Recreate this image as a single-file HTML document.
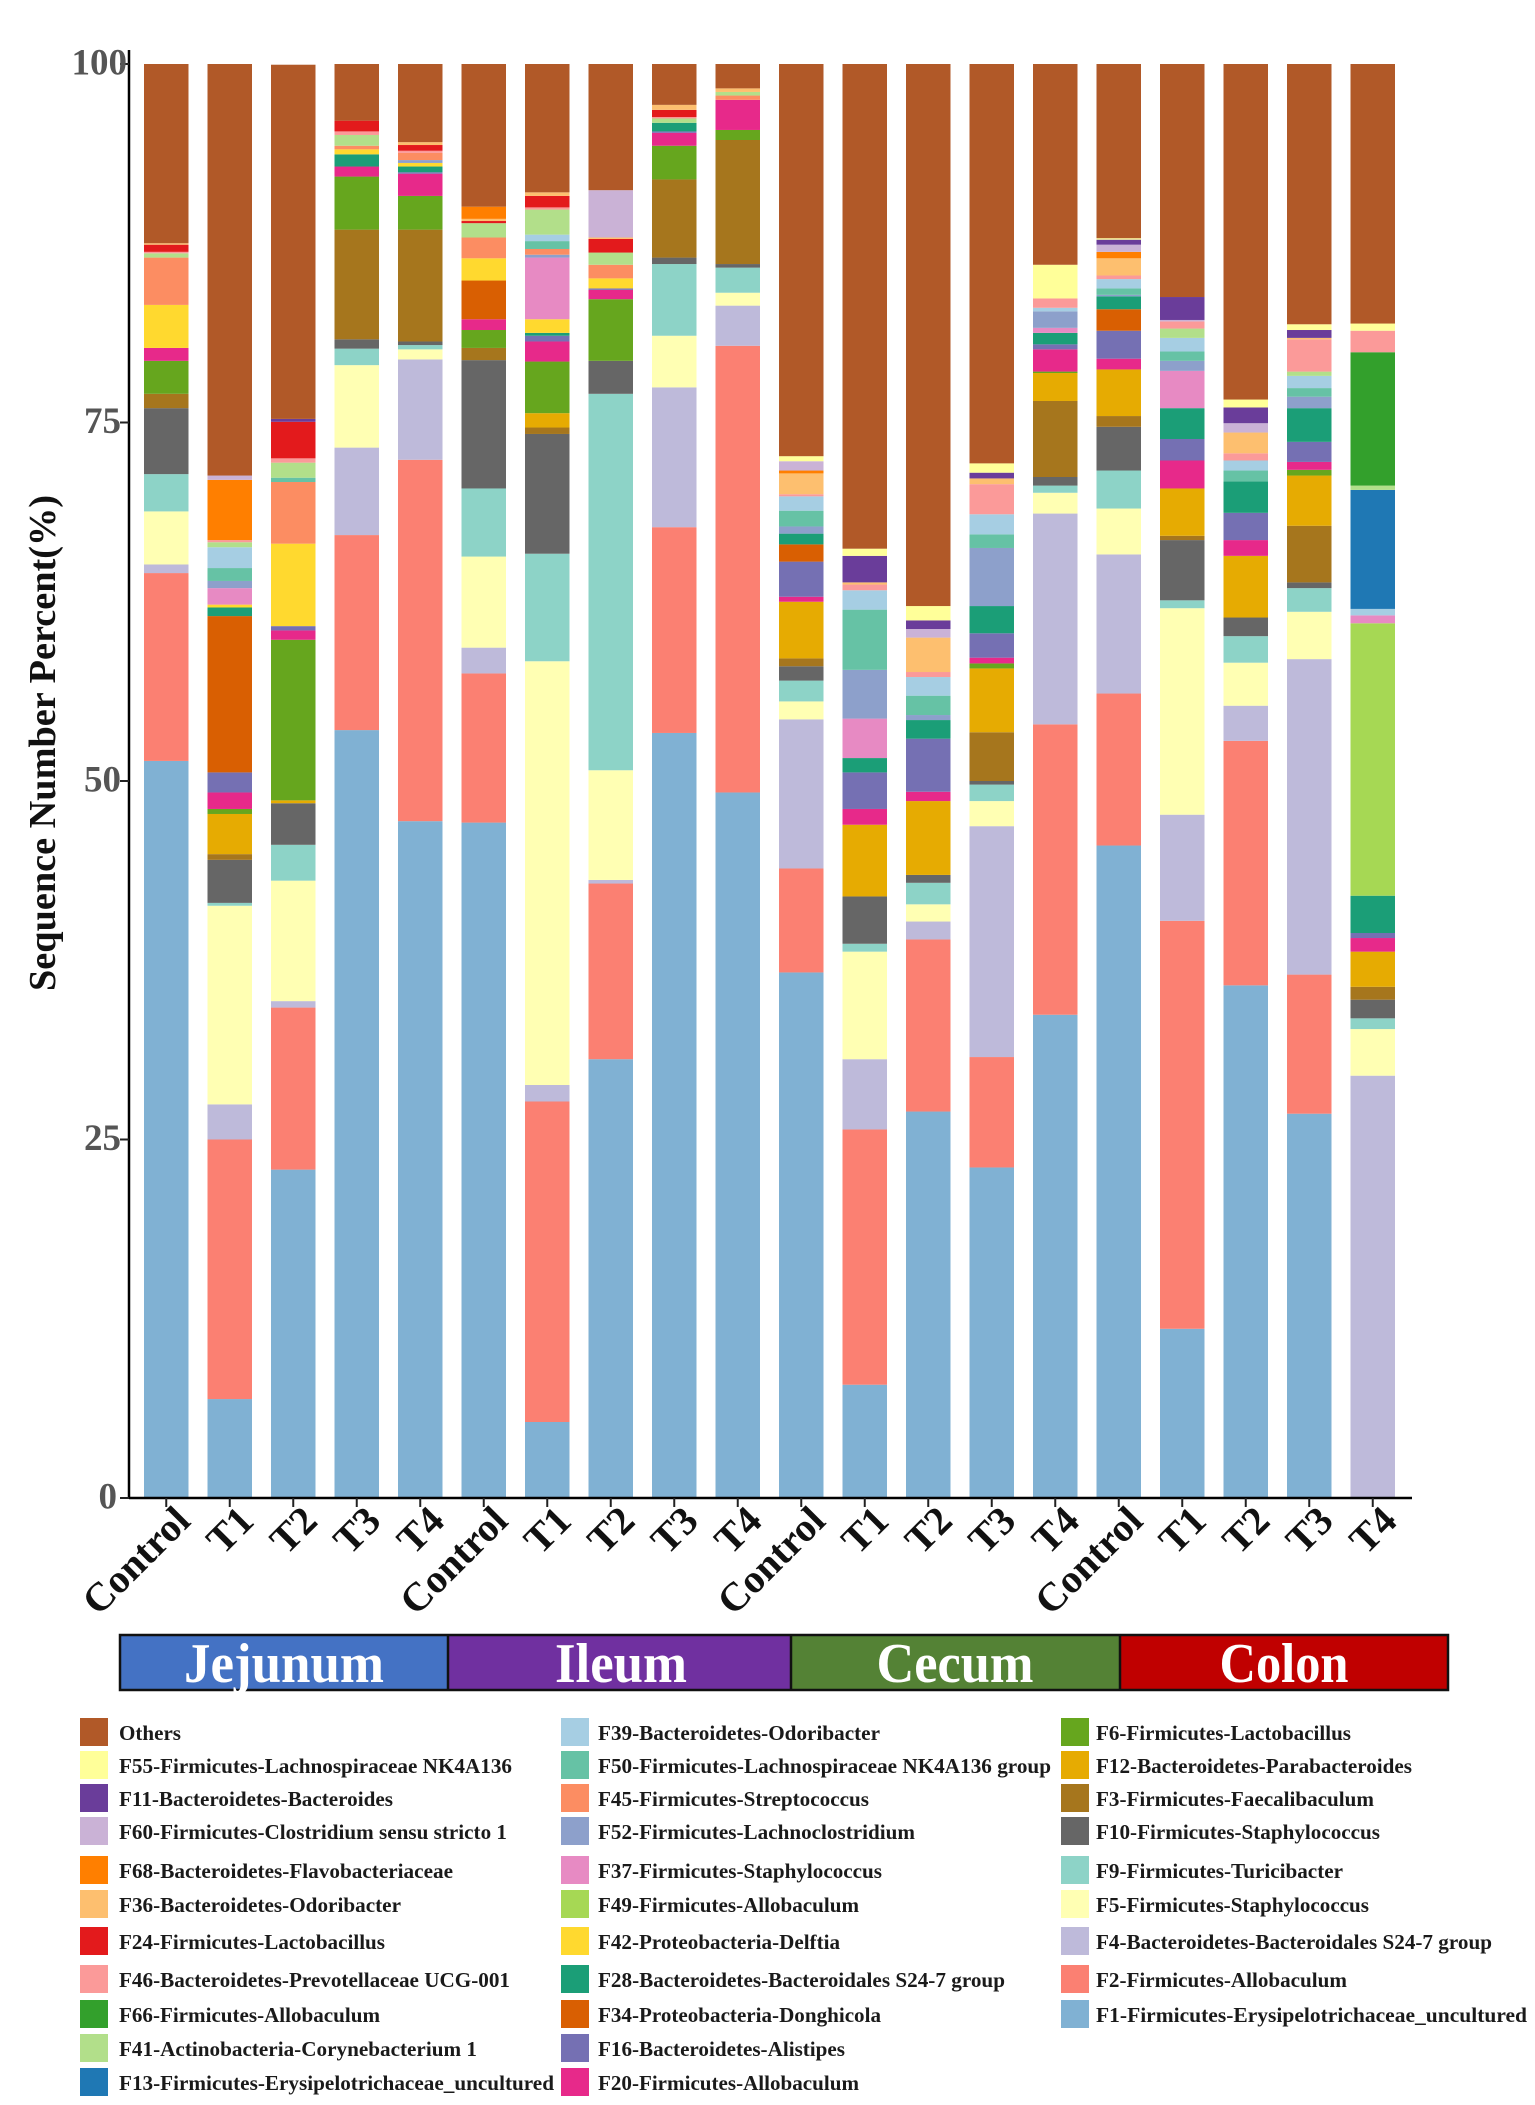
<!DOCTYPE html>
<html lang="en">
<head>
<meta charset="utf-8">
<title>Sequence Number Percent by Intestinal Segment</title>
<style>
  html, body { margin: 0; padding: 0; background: #fff; }
  body { width: 1535px; height: 2105px; overflow: hidden; }
  svg { display: block; font-family: "Liberation Serif", serif; font-weight: bold; }
  .lg { font-size: 21.5px; fill: #1a1a1a; }
  .band { font-size: 56px; fill: #fff; text-anchor: middle; }
</style>
</head>
<body>
<svg id="chart" xmlns="http://www.w3.org/2000/svg" width="1535" height="2105" viewBox="0 0 1535 2105">
  <rect x="0" y="0" width="1535" height="2105" fill="#fff"/>
  <g id="bars"></g>
  <g id="axes"></g>
  <text transform="translate(55,743) rotate(-90)" text-anchor="middle" font-size="38" fill="#111" textLength="496" lengthAdjust="spacingAndGlyphs">Sequence Number Percent(%)</text>

  <g>
    <rect x="120" y="1635" width="328" height="55" fill="#4472c4"/>
    <rect x="448" y="1635" width="343" height="55" fill="#7030a0"/>
    <rect x="791" y="1635" width="329" height="55" fill="#548235"/>
    <rect x="1120" y="1635" width="328" height="55" fill="#c00000"/>
    <path d="M120 1635H1448V1690H120ZM448 1635V1690M791 1635V1690M1120 1635V1690" fill="none" stroke="#111" stroke-width="2.5"/>
    <text class="band" x="284" y="1682" textLength="200" lengthAdjust="spacingAndGlyphs">Jejunum</text>
    <text class="band" x="621" y="1682" textLength="132" lengthAdjust="spacingAndGlyphs">Ileum</text>
    <text class="band" x="955" y="1682" textLength="157" lengthAdjust="spacingAndGlyphs">Cecum</text>
    <text class="band" x="1284" y="1682" textLength="129" lengthAdjust="spacingAndGlyphs">Colon</text>
  </g>

  <g>
    <g><rect x="80" y="1718" width="28" height="28" fill="#b15928"/><text class="lg" x="119" y="1740" textLength="62" lengthAdjust="spacingAndGlyphs">Others</text></g>
    <g><rect x="80" y="1751" width="28" height="28" fill="#ffff99"/><text class="lg" x="119" y="1773" textLength="393" lengthAdjust="spacingAndGlyphs">F55-Firmicutes-Lachnospiraceae NK4A136</text></g>
    <g><rect x="80" y="1784" width="28" height="28" fill="#6a3d9a"/><text class="lg" x="119" y="1806" textLength="274" lengthAdjust="spacingAndGlyphs">F11-Bacteroidetes-Bacteroides</text></g>
    <g><rect x="80" y="1817" width="28" height="28" fill="#cab2d6"/><text class="lg" x="119" y="1839" textLength="388" lengthAdjust="spacingAndGlyphs">F60-Firmicutes-Clostridium sensu stricto 1</text></g>
    <g><rect x="80" y="1856" width="28" height="28" fill="#ff7f00"/><text class="lg" x="119" y="1878" textLength="334" lengthAdjust="spacingAndGlyphs">F68-Bacteroidetes-Flavobacteriaceae</text></g>
    <g><rect x="80" y="1890" width="28" height="28" fill="#fdbf6f"/><text class="lg" x="119" y="1912" textLength="282" lengthAdjust="spacingAndGlyphs">F36-Bacteroidetes-Odoribacter</text></g>
    <g><rect x="80" y="1927" width="28" height="28" fill="#e31a1c"/><text class="lg" x="119" y="1949" textLength="266" lengthAdjust="spacingAndGlyphs">F24-Firmicutes-Lactobacillus</text></g>
    <g><rect x="80" y="1965" width="28" height="28" fill="#fb9a99"/><text class="lg" x="119" y="1987" textLength="391" lengthAdjust="spacingAndGlyphs">F46-Bacteroidetes-Prevotellaceae UCG-001</text></g>
    <g><rect x="80" y="2000" width="28" height="28" fill="#33a02c"/><text class="lg" x="119" y="2022" textLength="261" lengthAdjust="spacingAndGlyphs">F66-Firmicutes-Allobaculum</text></g>
    <g><rect x="80" y="2034" width="28" height="28" fill="#b2df8a"/><text class="lg" x="119" y="2056" textLength="358" lengthAdjust="spacingAndGlyphs">F41-Actinobacteria-Corynebacterium 1</text></g>
    <g><rect x="80" y="2068" width="28" height="28" fill="#1f78b4"/><text class="lg" x="119" y="2090" textLength="435" lengthAdjust="spacingAndGlyphs">F13-Firmicutes-Erysipelotrichaceae_uncultured</text></g>

    <g><rect x="561" y="1718" width="28" height="28" fill="#a6cee3"/><text class="lg" x="598" y="1740" textLength="282" lengthAdjust="spacingAndGlyphs">F39-Bacteroidetes-Odoribacter</text></g>
    <g><rect x="561" y="1751" width="28" height="28" fill="#66c2a5"/><text class="lg" x="598" y="1773" textLength="453" lengthAdjust="spacingAndGlyphs">F50-Firmicutes-Lachnospiraceae NK4A136 group</text></g>
    <g><rect x="561" y="1784" width="28" height="28" fill="#fc8d62"/><text class="lg" x="598" y="1806" textLength="271" lengthAdjust="spacingAndGlyphs">F45-Firmicutes-Streptococcus</text></g>
    <g><rect x="561" y="1817" width="28" height="28" fill="#8da0cb"/><text class="lg" x="598" y="1839" textLength="317" lengthAdjust="spacingAndGlyphs">F52-Firmicutes-Lachnoclostridium</text></g>
    <g><rect x="561" y="1856" width="28" height="28" fill="#e78ac3"/><text class="lg" x="598" y="1878" textLength="284" lengthAdjust="spacingAndGlyphs">F37-Firmicutes-Staphylococcus</text></g>
    <g><rect x="561" y="1890" width="28" height="28" fill="#a6d854"/><text class="lg" x="598" y="1912" textLength="261" lengthAdjust="spacingAndGlyphs">F49-Firmicutes-Allobaculum</text></g>
    <g><rect x="561" y="1927" width="28" height="28" fill="#ffd92f"/><text class="lg" x="598" y="1949" textLength="242" lengthAdjust="spacingAndGlyphs">F42-Proteobacteria-Delftia</text></g>
    <g><rect x="561" y="1965" width="28" height="28" fill="#1b9e77"/><text class="lg" x="598" y="1987" textLength="407" lengthAdjust="spacingAndGlyphs">F28-Bacteroidetes-Bacteroidales S24-7 group</text></g>
    <g><rect x="561" y="2000" width="28" height="28" fill="#d95f02"/><text class="lg" x="598" y="2022" textLength="283" lengthAdjust="spacingAndGlyphs">F34-Proteobacteria-Donghicola</text></g>
    <g><rect x="561" y="2034" width="28" height="28" fill="#7570b3"/><text class="lg" x="598" y="2056" textLength="247" lengthAdjust="spacingAndGlyphs">F16-Bacteroidetes-Alistipes</text></g>
    <g><rect x="561" y="2068" width="28" height="28" fill="#e7298a"/><text class="lg" x="598" y="2090" textLength="261" lengthAdjust="spacingAndGlyphs">F20-Firmicutes-Allobaculum</text></g>

    <g><rect x="1061" y="1718" width="28" height="28" fill="#66a61e"/><text class="lg" x="1096" y="1740" textLength="255" lengthAdjust="spacingAndGlyphs">F6-Firmicutes-Lactobacillus</text></g>
    <g><rect x="1061" y="1751" width="28" height="28" fill="#e6ab02"/><text class="lg" x="1096" y="1773" textLength="316" lengthAdjust="spacingAndGlyphs">F12-Bacteroidetes-Parabacteroides</text></g>
    <g><rect x="1061" y="1784" width="28" height="28" fill="#a6761d"/><text class="lg" x="1096" y="1806" textLength="278" lengthAdjust="spacingAndGlyphs">F3-Firmicutes-Faecalibaculum</text></g>
    <g><rect x="1061" y="1817" width="28" height="28" fill="#666666"/><text class="lg" x="1096" y="1839" textLength="284" lengthAdjust="spacingAndGlyphs">F10-Firmicutes-Staphylococcus</text></g>
    <g><rect x="1061" y="1856" width="28" height="28" fill="#8dd3c7"/><text class="lg" x="1096" y="1878" textLength="247" lengthAdjust="spacingAndGlyphs">F9-Firmicutes-Turicibacter</text></g>
    <g><rect x="1061" y="1890" width="28" height="28" fill="#ffffb3"/><text class="lg" x="1096" y="1912" textLength="273" lengthAdjust="spacingAndGlyphs">F5-Firmicutes-Staphylococcus</text></g>
    <g><rect x="1061" y="1927" width="28" height="28" fill="#bebada"/><text class="lg" x="1096" y="1949" textLength="396" lengthAdjust="spacingAndGlyphs">F4-Bacteroidetes-Bacteroidales S24-7 group</text></g>
    <g><rect x="1061" y="1965" width="28" height="28" fill="#fb8072"/><text class="lg" x="1096" y="1987" textLength="251" lengthAdjust="spacingAndGlyphs">F2-Firmicutes-Allobaculum</text></g>
    <g><rect x="1061" y="2000" width="28" height="28" fill="#80b1d3"/><text class="lg" x="1096" y="2022" textLength="431" lengthAdjust="spacingAndGlyphs">F1-Firmicutes-Erysipelotrichaceae_uncultured</text></g>
  </g>
</svg>

<script>
// Categories and axis ticks
const categories = ["Control","T1","T2","T3","T4","Control","T1","T2","T3","T4","Control","T1","T2","T3","T4","Control","T1","T2","T3","T4"];
const yTicks = [0, 25, 50, 75, 100];

// Series values, one number per category (percent), stacked bottom to top
const f1  = [51.4,6.9,22.9,53.55,47.2,47.1,5.3,30.6,53.35,49.2,36.65,7.9,26.95,23.05,33.7,45.5,11.8,35.75,26.8,0];
const f2  = [13.1,18.1,11.3,13.6,25.2,10.4,22.35,12.25,14.35,31.15,7.25,17.8,12,7.7,20.25,10.6,28.45,17.05,9.7,0];
const f4  = [0.6,2.45,0.45,6.1,7,1.8,1.15,0.25,9.75,2.8,10.4,4.9,1.25,16.1,14.7,9.7,7.4,2.45,22,29.45];
const f5  = [3.7,13.85,8.4,5.75,0.7,6.35,29.55,7.65,3.6,0.9,1.25,7.5,1.2,1.75,1.45,3.2,14.4,3,3.3,3.25];
const f9  = [2.6,0.2,2.5,1.15,0.3,4.75,7.5,26.25,5,1.75,1.45,0.55,1.5,1.15,0.5,2.65,0.55,1.85,1.65,0.75];
const f10 = [4.6,3,2.9,0.65,0.25,8.95,8.35,2.3,0.45,0.25,1,3.3,0.55,0.25,0.6,3.05,4.2,1.3,0.4,1.3];
const f3  = [1,0.4,0,7.65,7.8,0.85,0.45,0,5.45,8.65,0.55,0,0,3.4,5.3,0.75,0.3,0,3.95,0.9];
const f12 = [0,2.8,0.2,0,0,0,1,0,0,0,3.95,5,5.15,4.45,1.95,3.25,3.3,4.3,3.5,2.45];
const f6  = [2.3,0.35,11.2,3.7,2.35,1.25,3.6,4.3,2.35,0.7,0,0,0,0.35,0.1,0,0,0,0.4,0];
const f20 = [0.9,1.15,0.65,0.7,1.55,0.75,1.4,0.65,0.9,2.1,0.35,1.1,0.65,0.4,1.55,0.75,1.95,1.1,0.55,0.95];
const f16 = [0,1.4,0.3,0,0.1,0,0.4,0.1,0.1,0,2.45,2.55,3.7,1.7,0.35,1.95,1.5,1.9,1.4,0.35];
const f34 = [0,10.9,0,0,0,2.7,0,0,0,0,1.2,0,0,0,0,1.5,0,0,0,0];
const f28 = [0,0.6,0,0.85,0.4,0,0.2,0,0.6,0,0.75,1,1.3,1.9,0.8,0.9,2.15,2.2,2.35,2.6];
const f42 = [3,0.2,5.75,0.35,0.25,1.55,0.95,0.7,0,0,0,0,0,0,0,0,0,0,0,0];
const f49 = [0,0,0,0,0,0,0,0,0,0,0,0,0,0,0,0,0,0,0,19];
const f37 = [0,1.15,0,0,0,0,4.3,0,0,0,0,2.75,0,0,0.35,0,2.6,0,0,0.55];
const f52 = [0,0.5,0,0,0.2,0,0.2,0,0,0,0.5,3.4,0.35,4.05,1.15,0.1,0.7,0,0.8,0];
const f45 = [3.3,0,4.3,0.25,0.5,1.45,0.4,0.95,0,0.3,0,0,0,0,0,0,0,0,0,0];
const f50 = [0,0.9,0.3,0,0,0,0.55,0,0,0,1.1,4.2,1.35,0.95,0,0.45,0.65,0.75,0.6,0];
const f39 = [0,1.45,0,0,0,0,0.45,0,0,0,1,1.35,1.3,1.4,0.25,0.65,0.95,0.7,0.85,0.45];
const f13 = [0,0,0,0,0,0,0,0,0,0,0,0,0,0,0,0,0,0,0,8.3];
const f41 = [0.3,0.35,1.05,0.75,0,1,1.75,0.85,0.3,0.25,0,0,0,0,0,0,0.65,0,0.3,0.3];
const f66 = [0,0,0,0,0,0,0,0,0,0,0,0,0,0,0,0,0,0,0,9.3];
const f46 = [0.1,0.15,0.3,0.25,0.15,0,0.15,0,0.1,0,0.15,0.4,0.35,2.1,0.65,0.25,0.5,0.5,2.25,1.5];
const f24 = [0.5,0,2.55,0.75,0.4,0.15,0.8,0.95,0.5,0,0,0,0,0,0,0,0,0,0,0];
const f36 = [0.1,0,0,0,0.2,0.15,0.25,0.1,0.35,0.25,1.45,0.15,2.4,0.4,0,1.2,0,1.45,0.1,0];
const f68 = [0,4.2,0,0,0,0.85,0,0,0,0,0.2,0,0,0,0,0.45,0,0,0,0];
const f60 = [0,0.3,0,0,0,0,0,3.3,0,0,0.65,0,0.6,0,0,0.5,0.1,0.65,0,0];
const f11 = [0,0,0.2,0,0,0,0,0,0,0,0,1.85,0.6,0.4,0,0.35,1.6,1.1,0.55,0];
const f55 = [0,0,0,0,0,0,0,0,0,0,0.35,0.5,1,0.65,2.35,0.1,0,0.55,0.4,0.5];
const others = [12.5,28.7,24.7,3.95,5.45,9.95,8.95,8.8,2.85,1.7,27.35,33.8,37.8,27.85,14,12.15,16.25,23.4,18.15,18.1];

const stackOrder = [f1,f2,f4,f5,f9,f10,f3,f12,f6,f20,f16,f34,f28,f42,f49,f37,f52,f45,f50,f39,f13,f41,f66,f46,f24,f36,f68,f60,f11,f55,others];
const seriesKeys = ["f1","f2","f4","f5","f9","f10","f3","f12","f6","f20","f16","f34","f28","f42","f49","f37","f52","f45","f50","f39","f13","f41","f66","f46","f24","f36","f68","f60","f11","f55","others"];
const seriesColors = ["#80b1d3","#fb8072","#bebada","#ffffb3","#8dd3c7","#666666","#a6761d","#e6ab02","#66a61e","#e7298a","#7570b3","#d95f02","#1b9e77","#ffd92f","#a6d854","#e78ac3","#8da0cb","#fc8d62","#66c2a5","#a6cee3","#1f78b4","#b2df8a","#33a02c","#fb9a99","#e31a1c","#fdbf6f","#ff7f00","#cab2d6","#6a3d9a","#ffff99","#b15928"];

const NS = "http://www.w3.org/2000/svg";
const PLOT_BOTTOM = 1498;
const PX_PER_PERCENT = 14.34;
const BAR_LEFT = 144;
const BAR_PITCH = 63.5;
const BAR_WIDTH = 44.5;
const AXIS_X = 129;

function yScale(v) { return PLOT_BOTTOM - v * PX_PER_PERCENT; }
function xScale(i) { return BAR_LEFT + BAR_PITCH * i; }
function tickLabelEnd(v) { return v === 100 ? 127 : (v === 0 ? 117 : 121); }

const barsGroup = document.getElementById("bars");
categories.forEach(function (cat, i) {
  let base = 0;
  stackOrder.forEach(function (series, s) {
    const v = series[i];
    if (!v) return;
    const r = document.createElementNS(NS, "rect");
    
    
    r.setAttribute("data-series", seriesKeys[s]);
    r.setAttribute("x", xScale(i));
    r.setAttribute("width", BAR_WIDTH);
    r.setAttribute("y", yScale(base + v));
    r.setAttribute("height", v * PX_PER_PERCENT);
    r.setAttribute("fill", seriesColors[s]);
    barsGroup.appendChild(r);
    base += v;
  });
});

const axesGroup = document.getElementById("axes");

const yAxisLine = document.createElementNS(NS, "line");


yAxisLine.setAttribute("x1", AXIS_X);
yAxisLine.setAttribute("x2", AXIS_X);
yAxisLine.setAttribute("y1", 50);
yAxisLine.setAttribute("y2", PLOT_BOTTOM + 1);
yAxisLine.setAttribute("stroke", "#000");
yAxisLine.setAttribute("stroke-width", 2.5);
axesGroup.appendChild(yAxisLine);

const xAxisLine = document.createElementNS(NS, "line");


xAxisLine.setAttribute("x1", AXIS_X);
xAxisLine.setAttribute("x2", 1412);
xAxisLine.setAttribute("y1", PLOT_BOTTOM);
xAxisLine.setAttribute("y2", PLOT_BOTTOM);
xAxisLine.setAttribute("stroke", "#000");
xAxisLine.setAttribute("stroke-width", 2.5);
axesGroup.appendChild(xAxisLine);

yTicks.forEach(function (v) {
  const t = document.createElementNS(NS, "line");
  
  
  t.setAttribute("x1", 120);
  t.setAttribute("x2", AXIS_X);
  t.setAttribute("y1", yScale(v));
  t.setAttribute("y2", yScale(v));
  t.setAttribute("stroke", "#222");
  t.setAttribute("stroke-width", 2);
  axesGroup.appendChild(t);

  const l = document.createElementNS(NS, "text");
  
  
  l.setAttribute("x", tickLabelEnd(v));
  l.setAttribute("y", yScale(v) + 10.5);
  l.setAttribute("text-anchor", "end");
  l.setAttribute("font-size", 37);
  l.setAttribute("fill", "#555");
  l.textContent = String(v);
  axesGroup.appendChild(l);
});

categories.forEach(function (cat, i) {
  const cx = xScale(i) + BAR_WIDTH / 2;
  const t = document.createElementNS(NS, "line");
  
  
  t.setAttribute("x1", cx);
  t.setAttribute("x2", cx);
  t.setAttribute("y1", PLOT_BOTTOM);
  t.setAttribute("y2", PLOT_BOTTOM + 9);
  t.setAttribute("stroke", "#222");
  t.setAttribute("stroke-width", 2);
  axesGroup.appendChild(t);

  const l = document.createElementNS(NS, "text");
  
  
  l.setAttribute("transform", "translate(" + (cx + 26) + ",1523) rotate(-45)");
  l.setAttribute("text-anchor", "end");
  l.setAttribute("font-size", 40);
  l.setAttribute("fill", "#111");
  l.textContent = cat;
  axesGroup.appendChild(l);
});
</script>
</body>
</html>
